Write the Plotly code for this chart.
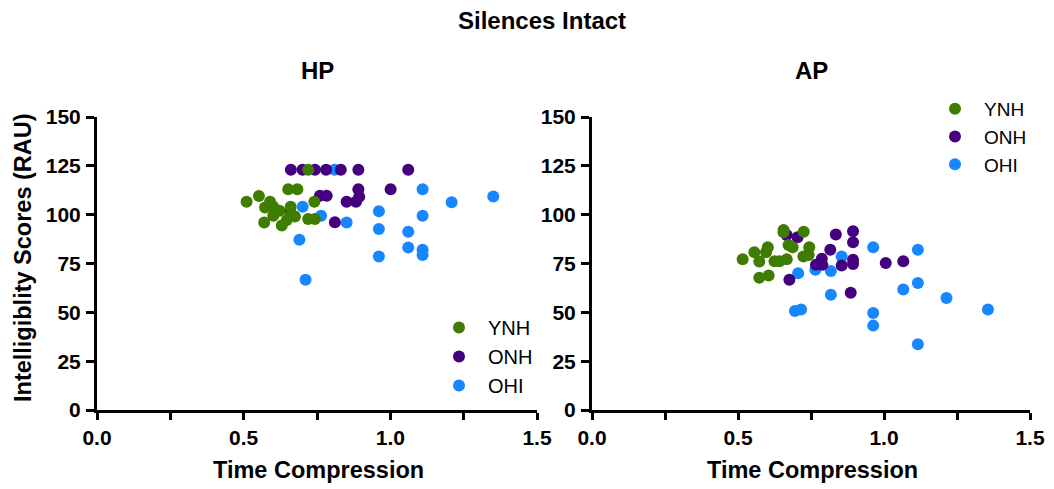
import plotly.graph_objects as go

# ---------------- data ----------------
groups = ["YNH", "ONH", "OHI"]
colors = {"YNH": "#3f7d00", "ONH": "#44007e", "OHI": "#1787ff"}

hp_ynh_x = [0.72, 0.652, 0.683, 0.51, 0.552, 0.59, 0.573, 0.601, 0.622, 0.601, 0.66, 0.661, 0.675, 0.647, 0.57, 0.63, 0.741, 0.72, 0.743]
hp_ynh_y = [123, 113, 113, 106.6, 109.5, 106.6, 103.7, 104, 102, 99.5, 104, 99.8, 99, 97.3, 96, 94.4, 106.6, 97.8, 97.8]

hp_onh_x = [0.661, 0.701, 0.743, 0.781, 0.831, 0.891, 1.061, 0.891, 1.001, 0.76, 0.783, 0.851, 0.883, 0.894, 0.811, 0.658]
hp_onh_y = [123, 123, 123, 123, 123, 123, 123, 113, 113, 109.7, 109.7, 106.6, 106.6, 109.2, 96.1, 102]

hp_ohi_x = [0.81, 0.701, 0.764, 0.851, 0.69, 0.711, 0.961, 0.961, 0.961, 1.061, 1.061, 1.11, 1.209, 1.351, 1.11, 1.11, 1.11]
hp_ohi_y = [123, 104, 99.5, 96, 87.1, 66.7, 101.7, 92.7, 78.6, 91.3, 83.2, 113, 106.3, 109.3, 99.5, 82.1, 79.4]

ap_ynh_x = [0.656, 0.656, 0.725, 0.602, 0.596, 0.556, 0.516, 0.573, 0.625, 0.642, 0.667, 0.673, 0.687, 0.744, 0.724, 0.742, 0.573, 0.605]
ap_ynh_y = [92.2, 91, 91.3, 83.3, 80.8, 80.8, 77.2, 76, 76.2, 76.2, 77.2, 84.5, 83.3, 83.3, 78.6, 79.4, 67.7, 68.9]

ap_onh_x = [0.667, 0.704, 0.835, 0.894, 0.894, 0.816, 0.787, 0.767, 0.789, 0.855, 0.894, 0.894, 0.676, 0.886, 1.006, 1.066]
ap_onh_y = [89.6, 88.4, 89.8, 91.5, 85.9, 82, 77.4, 74.3, 74.3, 74, 76.9, 74.8, 66.7, 60, 75.2, 76.2]

ap_ohi_x = [0.855, 0.765, 0.818, 0.706, 0.818, 0.695, 0.716, 0.963, 0.963, 0.963, 1.116, 1.116, 1.066, 1.214, 1.356, 1.116]
ap_ohi_y = [78.6, 71.8, 71.1, 70, 59, 50.7, 51.5, 83.3, 49.6, 43.2, 82, 65, 61.7, 57.3, 51.5, 33.7]

x_tickvals = [0, 0.25, 0.5, 0.75, 1.0, 1.25, 1.5]
x_ticktext = ["0.0", "", "0.5", "", "1.0", "", "1.5"]
y_tickvals = [0, 25, 50, 75, 100, 125, 150]

title_text = "Silences Intact"
panel_titles = ["HP", "AP"]
x_title = "Time Compression"
y_title = "Intelligiblity Scores (RAU)"

# ---------------- figure ----------------
FONT = "Liberation Sans, Arial, Helvetica, sans-serif"
W, H = 1054, 489

fig = go.Figure()

panels = [
    ("x", "y", "legend", {"YNH": (hp_ynh_x, hp_ynh_y), "ONH": (hp_onh_x, hp_onh_y), "OHI": (hp_ohi_x, hp_ohi_y)}),
    ("x2", "y2", "legend2", {"YNH": (ap_ynh_x, ap_ynh_y), "ONH": (ap_onh_x, ap_onh_y), "OHI": (ap_ohi_x, ap_ohi_y)}),
]

# drawn OHI first so the green group sits on top; legend order fixed by legendrank
for xa, ya, leg, data in panels:
    for g in ["OHI", "ONH", "YNH"]:
        xs, ys = data[g]
        kw = dict(legendgroup=leg + g) if leg == "legend" else {}
        fig.add_trace(go.Scatter(
            x=xs, y=ys, mode="markers", name=g,
            marker=dict(size=12, color=colors[g], line=dict(width=0)),
            xaxis=xa, yaxis=ya, legend=leg,
            legendrank=groups.index(g) + 1, **kw,
        ))

def px_x(p):
    return p / W

def px_y(p):
    return 1 - p / H

x_dom1 = [px_x(97), px_x(537)]
x_dom2 = [px_x(592), px_x(1030)]
y_dom = [px_y(410), px_y(117)]

axis_common = dict(
    showline=True, linecolor="black", linewidth=3,
    ticks="outside", ticklen=8, tickwidth=3, tickcolor="black",
    showgrid=False, zeroline=False, automargin=False,
    tickfont=dict(family=FONT, size=21, color="black", weight="bold"),
    fixedrange=True,
)

xaxis_common = dict(axis_common, range=[0, 1.5], tickmode="array",
                    tickvals=x_tickvals, ticktext=x_ticktext, ticklen=7)
yaxis_common = dict(axis_common, range=[0, 150], tickmode="array",
                    tickvals=y_tickvals, ticklabelstandoff=1)

fig.update_layout(
    width=W, height=H,
    margin=dict(l=0, r=0, t=0, b=0, autoexpand=False),
    paper_bgcolor="white", plot_bgcolor="white",
    font=dict(family=FONT, color="black"),
    xaxis=dict(xaxis_common, domain=x_dom1, anchor="y"),
    yaxis=dict(yaxis_common, domain=y_dom, anchor="x"),
    xaxis2=dict(xaxis_common, domain=x_dom2, anchor="y2"),
    yaxis2=dict(yaxis_common, domain=y_dom, anchor="x2"),
    legend=dict(
        x=px_x(430), y=px_y(308), xanchor="left", yanchor="top",
        font=dict(family=FONT, size=20, color="black"),
        bgcolor="rgba(0,0,0,0)", traceorder="normal",
        tracegroupgap=3, itemwidth=48,
    ),
    legend2=dict(
        x=px_x(926), y=px_y(90), xanchor="left", yanchor="top",
        font=dict(family=FONT, size=19, color="black"),
        bgcolor="rgba(0,0,0,0)", traceorder="normal",
        itemwidth=48,
    ),
    showlegend=True,
)

annotations = [
    dict(text=title_text, x=px_x(542), y=px_y(20), xref="paper", yref="paper",
         xanchor="center", yanchor="middle", showarrow=False,
         font=dict(family=FONT, size=24, color="black", weight="bold")),
    dict(text=panel_titles[0], x=px_x(317), y=px_y(71), xref="paper", yref="paper",
         xanchor="center", yanchor="middle", showarrow=False,
         font=dict(family=FONT, size=24, color="black", weight="bold")),
    dict(text=panel_titles[1], x=px_x(811), y=px_y(71), xref="paper", yref="paper",
         xanchor="center", yanchor="middle", showarrow=False,
         font=dict(family=FONT, size=24, color="black", weight="bold")),
    dict(text=x_title, x=px_x(318), y=px_y(470), xref="paper", yref="paper",
         xanchor="center", yanchor="middle", showarrow=False,
         font=dict(family=FONT, size=23.5, color="black", weight="bold")),
    dict(text=x_title, x=px_x(812), y=px_y(470), xref="paper", yref="paper",
         xanchor="center", yanchor="middle", showarrow=False,
         font=dict(family=FONT, size=23.5, color="black", weight="bold")),
    dict(text=y_title, x=px_x(23), y=px_y(258), xref="paper", yref="paper",
         xanchor="center", yanchor="middle", showarrow=False, textangle=-90,
         font=dict(family=FONT, size=23.5, color="black", weight="bold")),
]
fig.update_layout(annotations=annotations)

fig.write_html("out.html")
